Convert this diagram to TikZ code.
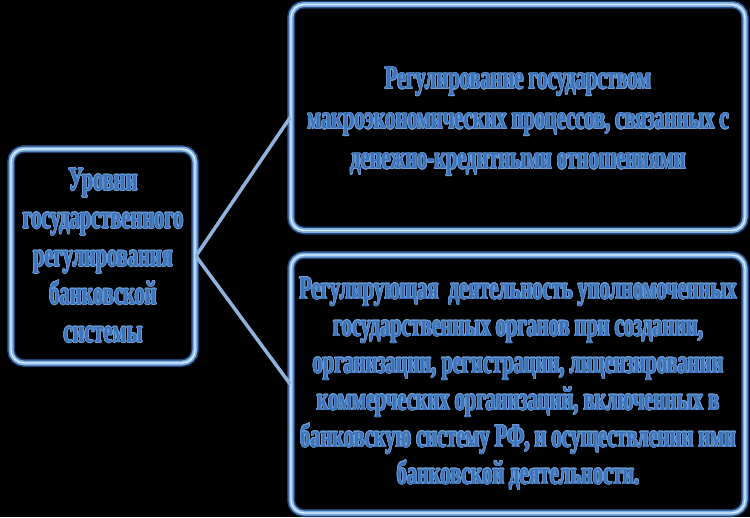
\documentclass[tikz,border=0pt]{standalone}
\usepackage{fontspec}
\setmainfont[FakeStretch=0.62]{Liberation Serif}
\usepackage{contour}
\contourlength{0.7pt}
\definecolor{bg}{HTML}{000000}
\definecolor{txt}{HTML}{3A72BC}
\definecolor{halo}{HTML}{6E9CD2}
\definecolor{rimA}{HTML}{7EAEE2}
\definecolor{rimB}{HTML}{DCEEFF}
\definecolor{glow}{HTML}{1C3F70}
\definecolor{link}{HTML}{90B3DC}
\newcommand{\tl}[1]{\contour{halo}{#1}}
\tikzset{
  x=1pt, y=-1pt,
  box/.style={rounded corners=13pt, draw=rimA, line width=1.8pt,
    double=rimB, double distance=1.4pt,
    preaction={draw=glow, line width=8pt, rounded corners=13pt},
    text=txt, align=center, inner sep=0pt,
    font=\fontsize{33}{38}\selectfont\bfseries},
  linkline/.style={draw=link, line width=3.5pt}
}
\begin{document}
\begin{tikzpicture}
\fill[bg] (0,0) rectangle (750,517);
\useasboundingbox (0,0) rectangle (750,517);
\node[box, minimum width=184pt, minimum height=214pt] (L) at (103,256)
  {\tl{Уровни}\\ \tl{государственного}\\ \tl{регулирования}\\ \tl{банковской}\\ \tl{системы}};
\node[box, minimum width=454pt, minimum height=226pt] (T) at (518,117.5) {};
\node[text=txt, align=center, inner sep=0pt,
  font=\fontsize{33}{40}\selectfont\bfseries] (Tt) at (518,122)
  {\tl{Регулирование государством}\\ \tl{макроэкономических процессов, связанных с}\\ \tl{денежно-кредитными отношениями}};
\node[box, minimum width=454pt, minimum height=258pt,
  font=\fontsize{33}{37}\selectfont\bfseries] (B) at (518,384)
  {\tl{Регулирующая\ \ деятельность уполномоченных}\\ \tl{государственных органов при создании,}\\ \tl{организации, регистрации, лицензировании}\\ \tl{коммерческих организаций, включенных в}\\ \tl{банковскую систему РФ, и осуществлении ими}\\ \tl{банковской деятельности.}};
\draw[linkline] (L.east) -- (T.west);
\draw[linkline] (L.east) -- (B.west);
\end{tikzpicture}
\end{document}
